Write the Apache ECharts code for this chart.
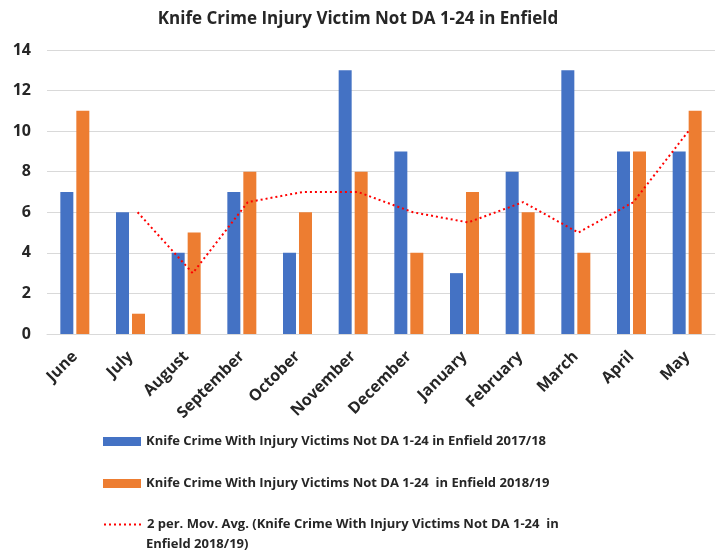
<!DOCTYPE html>
<html>
<head>
<meta charset="utf-8">
<script src="https://cdn.jsdelivr.net/npm/echarts@6/dist/echarts.min.js"></script>
<style>
  html, body { margin: 0; padding: 0; background: #fff; }
  #chart { width: 716px; height: 554px; }
</style>
</head>
<body>
<div id="chart"></div>
<script>
const months = ['June', 'July', 'August', 'September', 'October', 'November',
  'December', 'January', 'February', 'March', 'April', 'May']
const victims1718 = [7, 6, 4, 7, 4, 13, 9, 3, 8, 13, 9, 9]
const victims1819 = [11, 1, 5, 8, 6, 8, 4, 7, 6, 4, 9, 11]
// 2 period moving average
const movAvg1819 = [null, 6, 3, 6.5, 7, 7, 6, 5.5, 6.5, 5, 6.5, 10]

const name1 = 'Knife Crime With Injury Victims Not DA 1-24 in Enfield 2017/18'
const name2 = 'Knife Crime With Injury Victims Not DA 1-24  in Enfield 2018/19'
const name3 = '2 per. Mov. Avg. (Knife Crime With Injury Victims Not DA 1-24  in Enfield 2018/19)'

const font = 'Open Sans, Liberation Sans, sans-serif'
const chart = echarts.init(document.getElementById('chart'))

const legendText = { fontFamily: font, fontWeight: 'bold', fontSize: 13, color: '#262626' }
function legendAt(top, name, icon, label) {
  return {
    left: 103, top: top, padding: 0, itemWidth: 38, itemHeight: 9, itemGap: 6,
    icon: icon, data: [name], textStyle: legendText,
    selectedMode: false,
    formatter: label ? () => label : undefined
  }
}

const avgLegend = legendAt(518, name3, undefined, '2 per. Mov. Avg. (Knife Crime With Injury Victims Not DA 1-24  in')
avgLegend.itemStyle = { opacity: 0 }

const option = {
  animation: false,
  title: {
    text: 'Knife Crime Injury Victim Not DA 1-24 in Enfield',
    left: 'center', top: 6,
    textStyle: { fontFamily: font, fontWeight: 'bold', fontSize: 17, color: '#262626' }
  },
  legend: [
    legendAt(435, name1, 'rect'),
    legendAt(477, name2, 'rect'),
    avgLegend
  ],
  // wrapped second line of the moving average legend entry
  graphic: [{
    type: 'text', left: 146, top: 538,
    style: { text: 'Enfield 2018/19)', font: 'bold 13px ' + font, fill: '#262626' }
  }],
  grid: [
    { left: 47, width: 668, top: 50, bottom: 220 },
    { left: 55, width: 668, top: 50, bottom: 220 }
  ],
  xAxis: [
    {
      type: 'category', data: months, gridIndex: 0,
      axisLine: { lineStyle: { color: '#d9d9d9' } },
      axisTick: { show: false },
      axisLabel: {
        rotate: 45, interval: 0, margin: 20,
        fontFamily: font, fontWeight: 'bold', fontSize: 16, color: '#262626'
      }
    },
    { type: 'category', data: months, gridIndex: 1, show: false }
  ],
  yAxis: [
    {
      type: 'value', min: 0, max: 14, interval: 2, gridIndex: 0,
      axisLine: { show: false }, axisTick: { show: false },
      splitLine: { lineStyle: { color: '#d9d9d9' } },
      axisLabel: { margin: 16, fontFamily: font, fontWeight: 'bold', fontSize: 16, color: '#262626' }
    },
    { type: 'value', min: 0, max: 14, gridIndex: 1, show: false }
  ],
  series: [
    {
      name: name1, type: 'bar', data: victims1718,
      barWidth: 13, barGap: '23%',
      itemStyle: { color: '#4472c4' }
    },
    {
      name: name2, type: 'bar', data: victims1819,
      barWidth: 13,
      itemStyle: { color: '#ed7d31' }
    },
    {
      name: name3, type: 'line', data: movAvg1819,
      xAxisIndex: 1, yAxisIndex: 1,
      symbol: 'none', connectNulls: false,
      lineStyle: { color: '#ff0000', width: 2, type: [2, 3] },
      itemStyle: { color: '#ff0000' }
    }
  ]
}

chart.setOption(option)
</script>
</body>
</html>
